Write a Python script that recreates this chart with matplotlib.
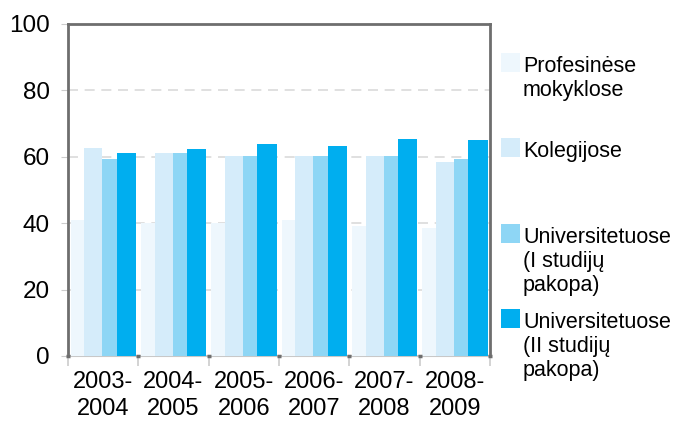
import matplotlib.pyplot as plt
from matplotlib.patches import Rectangle

plt.rcParams['font.family'] = ['Liberation Sans', 'DejaVu Sans']

# school years on the x axis
years = ['2003-\n2004', '2004-\n2005', '2005-\n2006', '2006-\n2007', '2007-\n2008', '2008-\n2009']

# series
profesines = [41.0, 40.0, 40.0, 41.0, 39.2, 38.6]
kolegijos = [62.6, 61.2, 60.3, 60.2, 60.2, 58.4]
univ_1 = [59.3, 61.0, 60.3, 60.2, 60.2, 59.3]
univ_2 = [61.1, 62.4, 63.9, 63.3, 65.4, 65.1]

labels = ['Profesinėse\nmokyklose', 'Kolegijose',
          'Universitetuose\n(I studijų\npakopa)', 'Universitetuose\n(II studijų\npakopa)']
colors = ['#eef7fd', '#d5ecfa', '#8ed6f5', '#00aeef']

fig = plt.figure(figsize=(6.74, 4.24), dpi=100)
ax = fig.add_axes([68 / 674, 68 / 424, 422 / 674, 332 / 424])

# bar edges inside each group (fraction of group width)
edges = [0.04, 0.234, 0.49, 0.69, 0.966]
series = [profesines, kolegijos, univ_1, univ_2]
for i, (vals, col) in enumerate(zip(series, colors)):
    xs = [g + edges[i] for g in range(len(years))]
    ax.bar(xs, vals, width=edges[i + 1] - edges[i], align='edge', color=col,
           linewidth=0, zorder=3)

ax.set_xlim(0, len(years))
ax.set_ylim(0, 100)
ax.set_yticks([0, 20, 40, 60, 80, 100])
ax.set_xticks(range(len(years) + 1))
ax.set_xticklabels([])
ax.set_xticks([g + 0.5 for g in range(len(years))], minor=True)
ax.set_xticklabels(years, minor=True, linespacing=1.28)

ax.tick_params(axis='y', length=5, color='#cccccc', labelsize=17.5, pad=8)
ax.tick_params(axis='x', which='major', length=7, color='#cccccc', width=1.2)
ax.tick_params(axis='x', which='minor', length=0, labelsize=17, pad=11)

for y in [20, 40, 60, 80]:
    ax.axhline(y, color='#dadada', lw=1.2, ls=(0, (6, 4)), zorder=1)

for side in ['left', 'top', 'right']:
    ax.spines[side].set_color('#6e6e6e')
    ax.spines[side].set_linewidth(2.0)
ax.spines['bottom'].set_color('#c8c8c8')
ax.spines['bottom'].set_linewidth(1.5)
for g in range(len(years) + 1):
    ax.plot([g - 0.03, g + 0.03], [0, 0], color='#6e6e6e', lw=2.5,
            solid_capstyle='butt', clip_on=False, zorder=4)

# legend on the right, one slot per series
for i, (lab, col) in enumerate(zip(labels, colors)):
    top = 53 + 85.3 * i
    fig.patches.append(Rectangle((501 / 674, 1 - (top + 19) / 424), 19 / 674, 19 / 424,
                                 transform=fig.transFigure, color=col, linewidth=0))
    fig.text(523 / 674, 1 - (top + 3) / 424, lab, fontsize=15.5, va='top', ha='left',
             linespacing=1.2)

fig.savefig('out.png', dpi=100)
